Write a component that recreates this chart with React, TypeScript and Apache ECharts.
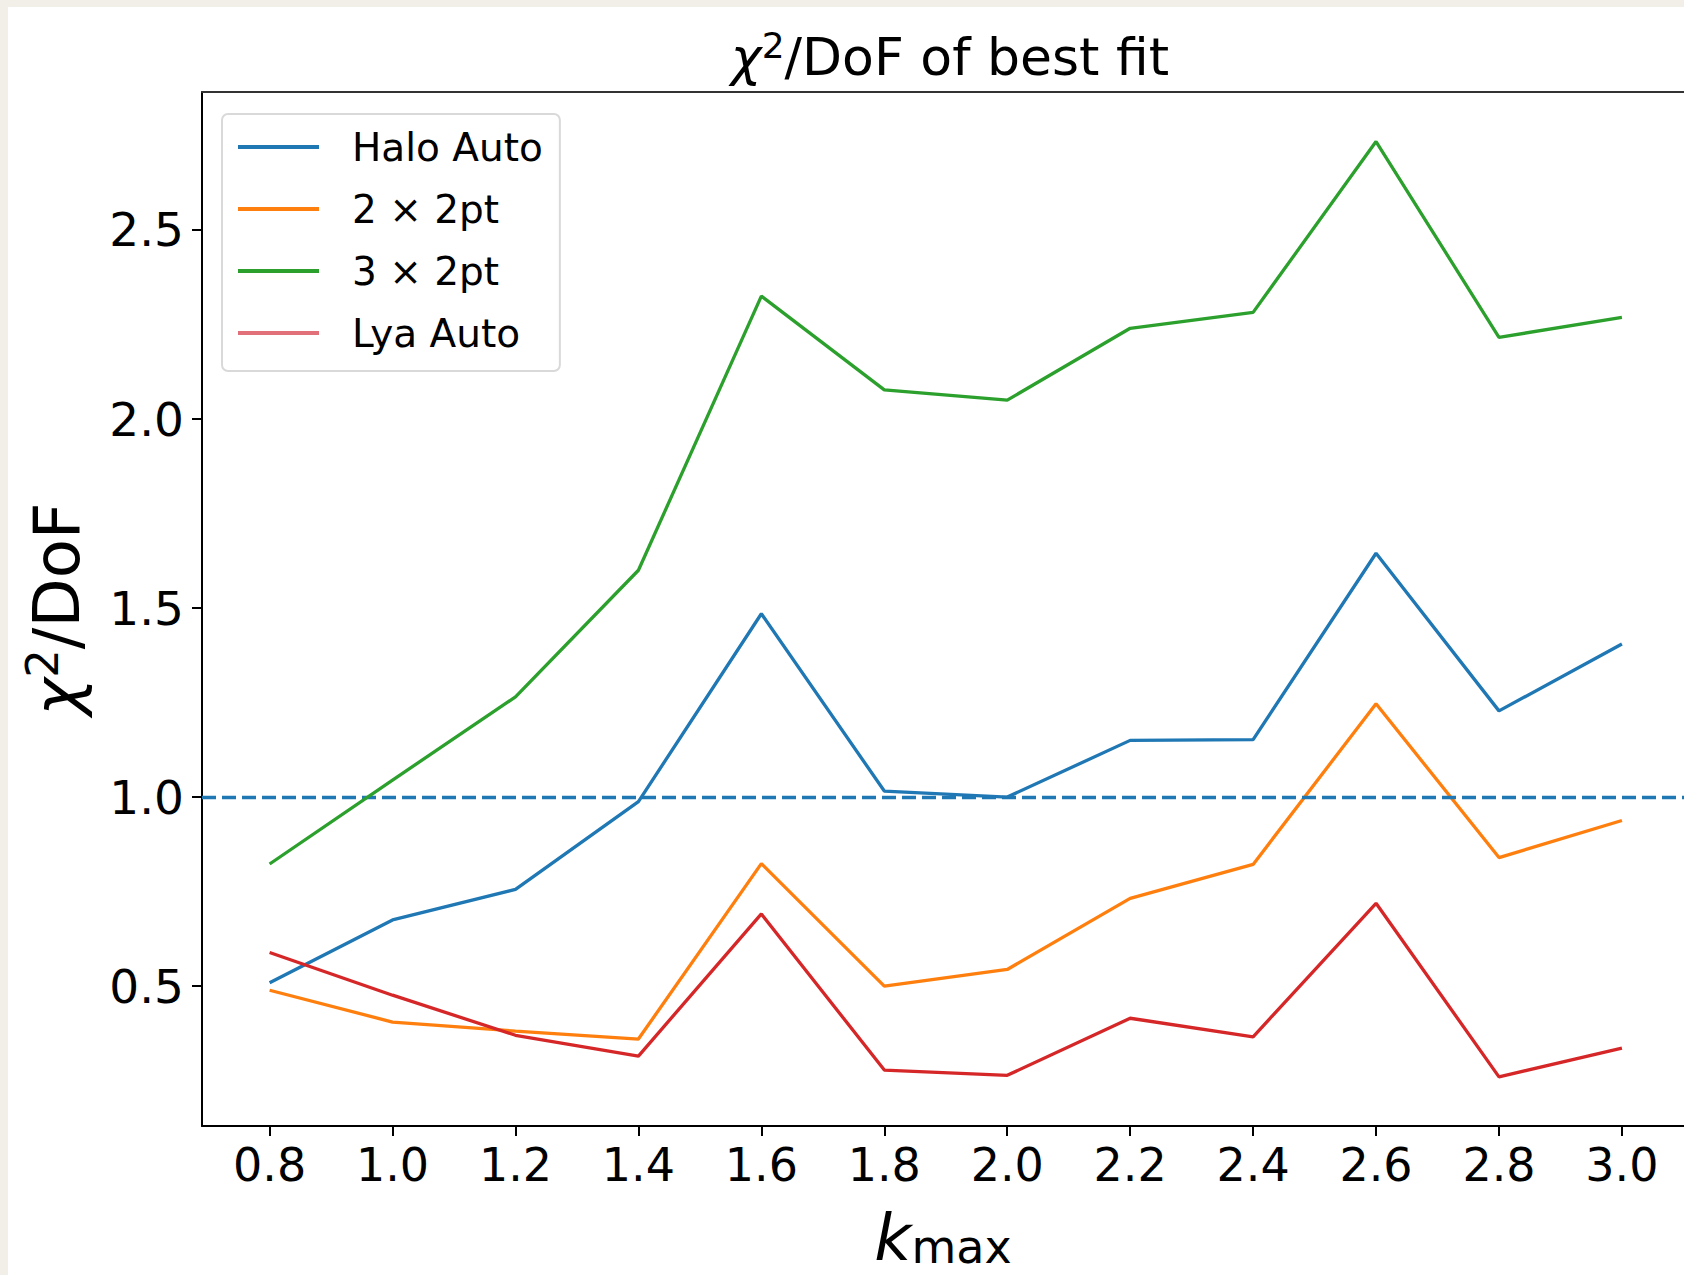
import React, { useEffect, useRef } from "react";
import * as echarts from "echarts";

const kmax = [0.8, 1.0, 1.2, 1.4, 1.6, 1.8, 2.0, 2.2, 2.4, 2.6, 2.8, 3.0];
const haloAuto = [0.509, 0.675, 0.756, 0.988, 1.485, 1.016, 1.0, 1.15, 1.152, 1.645, 1.228, 1.405];
const twoByTwo = [0.489, 0.405, 0.381, 0.36, 0.824, 0.5, 0.544, 0.732, 0.822, 1.247, 0.84, 0.938];
const threeByTwo = [0.823, 1.045, 1.265, 1.6, 2.325, 2.077, 2.05, 2.24, 2.282, 2.734, 2.216, 2.269];
const lyaAuto = [0.589, 0.476, 0.37, 0.315, 0.691, 0.278, 0.264, 0.415, 0.366, 0.719, 0.26, 0.336];
const yTicks = [0.5, 1.0, 1.5, 2.0, 2.5];
const seriesNames = ["Halo Auto", "2 × 2pt", "3 × 2pt", "Lya Auto"];
const seriesValues = [haloAuto, twoByTwo, threeByTwo, lyaAuto];
const colors = ["#1f77b4", "#ff7f0e", "#2ca02c", "#d62728"];
const legendColors = ["#1f77b4", "#ff7f0e", "#2ca02c", "#e2707a"];
const referenceLine = 1.0;

const FONT = "DejaVu Sans";

export default function App() {
  const ref = useRef<HTMLDivElement>(null);
  useEffect(() => {
    if (!ref.current) return;
    const chart = echarts.init(ref.current, undefined, { renderer: "svg" });
    const xMin = 0.69;
    const xMax = 3.101;
    const yMin = 0.13;
    const yMax = 2.865;
    const series: any[] = seriesNames.map((name, si) => ({
      name,
      type: "line",
      xAxisIndex: 0,
      yAxisIndex: 0,
      symbol: "none",
      data: kmax.map((x, i) => [x, seriesValues[si][i]]),
      color: colors[si],
      lineStyle: { color: colors[si], width: 3.3 },
      z: 3 + si,
    }));
    series[0].markLine = {
      silent: true,
      symbol: ["none", "none"],
      label: { show: false },
      lineStyle: { color: colors[0], width: 3.3, type: [14, 6] },
      data: [{ yAxis: referenceLine }],
    };
    const chiRich = (size: number) => ({
      chi: { fontSize: size, fontStyle: "italic", fontWeight: "normal", fontFamily: FONT, color: "#000", lineHeight: size * 1.15 },
      sup: { fontSize: Math.round(size * 0.7), fontWeight: "normal", fontFamily: FONT, color: "#000", verticalAlign: "top", lineHeight: Math.round(size * 0.7) },
      r: { fontSize: size, fontWeight: "normal", fontFamily: FONT, color: "#000", lineHeight: size * 1.15 },
    });
    chart.setOption({
      animation: false,
      backgroundColor: "#ffffff",
      textStyle: { fontFamily: FONT },
      graphic: [
        { type: "rect", left: 0, top: 0, shape: { width: 8, height: 1275 }, style: { fill: "#f2efe8" }, silent: true },
        { type: "rect", left: 0, top: 0, shape: { width: 1684, height: 7 }, style: { fill: "#f2efe8" }, silent: true },
      ],
      title: {
        text: "{chi|χ}{sup|2}{r|/DoF of best fit}",
        left: 945,
        top: 22,
        textAlign: "center",
        textStyle: { fontWeight: "normal", rich: chiRich(52) },
      },
      legend: {
        orient: "vertical",
        left: 222,
        top: 114,
        data: seriesNames.map((name, i) => ({ name, itemStyle: { color: legendColors[i] } })),
        icon: "rect",
        itemWidth: 81,
        itemHeight: 4,
        itemGap: 22,
        padding: [13, 17, 18, 16],
        backgroundColor: "rgba(255,255,255,0.8)",
        borderColor: "#d9d9d9",
        borderWidth: 2,
        borderRadius: 6,
        textStyle: { fontSize: 39, color: "#000", fontFamily: FONT, padding: [0, 0, 0, 28], lineHeight: 40 },
      },
      grid: { left: 202, top: 92, right: 0, bottom: 149, containLabel: false, outerBoundsMode: "none" },
      xAxis: [
        {
          type: "value",
          min: xMin,
          max: xMax,
          position: "bottom",
          axisLine: { show: true, onZero: false, lineStyle: { color: "#000", width: 2 } },
          axisTick: { show: true, length: 10, customValues: kmax, lineStyle: { color: "#000", width: 2 } },
          axisLabel: {
            customValues: kmax,
            formatter: (v: number) => v.toFixed(1),
            fontSize: 46,
            color: "#000",
            fontFamily: FONT,
            margin: 16,
          },
          splitLine: { show: false },
          name: "{k|k}{sub|max}",
          nameLocation: "middle",
          nameGap: 80,
          nameTextStyle: {
            rich: {
              k: { fontSize: 64, fontStyle: "italic", fontFamily: FONT, color: "#000", lineHeight: 64 },
              sub: { fontSize: 46, fontFamily: FONT, color: "#000", lineHeight: 46, padding: [22, 0, 0, 0], verticalAlign: "bottom" },
            },
          },
        },
        {
          type: "value",
          min: xMin,
          max: xMax,
          position: "top",
          axisLine: { show: true, onZero: false, lineStyle: { color: "#333", width: 2 } },
          axisTick: { show: false },
          axisLabel: { show: false },
          splitLine: { show: false },
        },
      ],
      yAxis: {
        type: "value",
        min: yMin,
        max: yMax,
        axisLine: { show: true, onZero: false, lineStyle: { color: "#000", width: 2 } },
        axisTick: { show: true, length: 10, customValues: yTicks, lineStyle: { color: "#000", width: 2 } },
        axisLabel: {
          customValues: yTicks,
          formatter: (v: number) => v.toFixed(1),
          fontSize: 47,
          color: "#000",
          fontFamily: FONT,
          margin: 18,
        },
        splitLine: { show: false },
        name: "{chi|χ}{sup|2}{r|/DoF}",
        nameLocation: "middle",
        nameRotate: 90,
        nameGap: 108,
        nameTextStyle: { rich: chiRich(64) },
      },
      series,
    });
    return () => chart.dispose();
  }, []);
  return <div ref={ref} style={{ position: "fixed", left: 0, top: 0, width: 1684, height: 1275 }} />;
}
